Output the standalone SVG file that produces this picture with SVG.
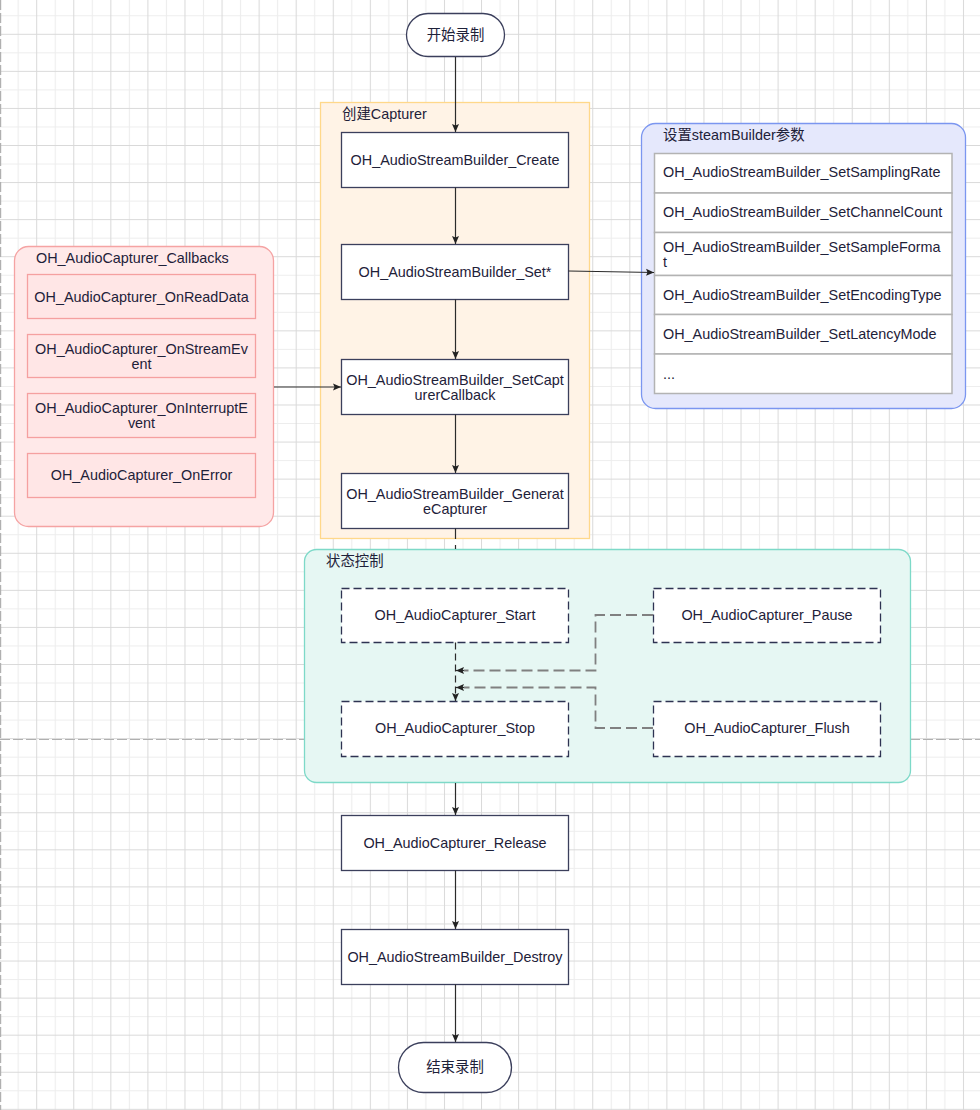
<svg xmlns="http://www.w3.org/2000/svg" width="980" height="1110" viewBox="0 0 980 1110">
<defs>
<pattern id="grid" patternUnits="userSpaceOnUse" x="-0.87" y="-3.27" width="37.07" height="37.07">
<rect width="37.07" height="37.07" fill="#fff"/>
<path d="M19.03 0V37.07M0 19.03H37.07" stroke="#ededed" stroke-width="1"/>
<path d="M0.5 0V37.07M0 0.5H37.07" stroke="#d9d9d9" stroke-width="1"/>
</pattern>
<marker id="arr" markerUnits="userSpaceOnUse" markerWidth="9" markerHeight="9" refX="8" refY="4" orient="auto">
<path d="M0,0.5 L8,4 L0,7.5 L1.5,4 z" fill="#222"/>
</marker>
<style>
.t{font-family:"Liberation Sans",Arial,"Noto Sans CJK SC",sans-serif;font-size:14.4px;fill:#1e2139}
.c{text-anchor:middle}
.box{fill:#fff;stroke:#3b3f5c;stroke-width:1.3}
.dbox{fill:#fff;stroke:#2e3352;stroke-width:1.3;stroke-dasharray:8 4}
.cb{fill:#ffe6e6;stroke:#f5a0a0;stroke-width:1.3}
.row{fill:#fff;stroke:#b3b3b3;stroke-width:1.5}
.conn{fill:none;stroke:#2b2b2b;stroke-width:1.2}
.dk{fill:none;stroke:#2b2b2b;stroke-width:1.2;stroke-dasharray:7 4}
.dconn{fill:none;stroke:#808080;stroke-width:1.8;stroke-dasharray:11 5}
.pb{fill:none;stroke:#b0b0b0;stroke-width:1.2;stroke-dasharray:10 3}
</style>
</defs>
<rect width="980" height="1110" fill="url(#grid)"/>
<path class="pb" d="M0.6 0V1110M0 739.5H980"/>

<g id="group-create">
<rect x="320.5" y="102.5" width="269" height="436" fill="#fff3e6" stroke="#ffd88a" stroke-width="1.3"/>
<text class="t" x="342" y="118.5">创建Capturer</text>
</g>

<g id="group-callbacks">
<rect x="14.5" y="246.5" width="259" height="280" rx="14" fill="#ffe9e9" stroke="#f5a3a3" stroke-width="1.3"/>
<text class="t" x="36" y="263">OH_AudioCapturer_Callbacks</text>
</g>

<g id="group-params">
<rect x="641.5" y="123.5" width="324" height="285" rx="14" fill="#e5e8fc" stroke="#7b96f0" stroke-width="1.3"/>
<text class="t" x="663" y="140">设置steamBuilder参数</text>
</g>

<g id="group-state">
<rect x="304.5" y="549.5" width="606" height="233" rx="12" fill="#e6f7f3" stroke="#7dd9c8" stroke-width="1.3"/>
<text class="t" x="326" y="566">状态控制</text>
</g>

<g id="start">
<rect x="406.5" y="13.5" width="98" height="43" rx="21.5" fill="#fff" stroke="#3b3f5c" stroke-width="1.3"/>
<text class="t c" x="455.5" y="40">开始录制</text>
</g>

<g id="create">
<rect class="box" x="341.5" y="132.5" width="227" height="55"/>
<text class="t c" x="455" y="165">OH_AudioStreamBuilder_Create</text>
</g>

<g id="set">
<rect class="box" x="341.5" y="244.5" width="227" height="55"/>
<text class="t c" x="455" y="277">OH_AudioStreamBuilder_Set*</text>
</g>

<g id="setcallback">
<rect class="box" x="341.5" y="359.5" width="227" height="55"/>
<text class="t c" x="455" y="385">OH_AudioStreamBuilder_SetCapt</text>
<text class="t c" x="455" y="400">urerCallback</text>
</g>

<g id="generate">
<rect class="box" x="341.5" y="473.5" width="227" height="55"/>
<text class="t c" x="455" y="499">OH_AudioStreamBuilder_Generat</text>
<text class="t c" x="455" y="514">eCapturer</text>
</g>

<g id="cb-readdata">
<rect class="cb" x="27.5" y="274.5" width="228" height="44"/>
<text class="t c" x="141.5" y="302">OH_AudioCapturer_OnReadData</text>
</g>
<g id="cb-streamevent">
<rect class="cb" x="27.5" y="334.5" width="228" height="43"/>
<text class="t c" x="141.5" y="354">OH_AudioCapturer_OnStreamEv</text>
<text class="t c" x="141.5" y="369">ent</text>
</g>
<g id="cb-interrupt">
<rect class="cb" x="27.5" y="393.5" width="228" height="44"/>
<text class="t c" x="141.5" y="413">OH_AudioCapturer_OnInterruptE</text>
<text class="t c" x="141.5" y="428">vent</text>
</g>
<g id="cb-error">
<rect class="cb" x="27.5" y="453.5" width="228" height="44"/>
<text class="t c" x="141.5" y="480">OH_AudioCapturer_OnError</text>
</g>

<g id="params-list">
<rect class="row" x="654.5" y="153.5" width="297.5" height="39.5"/>
<text class="t" x="663" y="177">OH_AudioStreamBuilder_SetSamplingRate</text>
<rect class="row" x="654.5" y="193" width="297.5" height="39.5"/>
<text class="t" x="663" y="217">OH_AudioStreamBuilder_SetChannelCount</text>
<rect class="row" x="654.5" y="232.5" width="297.5" height="43"/>
<text class="t" x="663" y="251.5">OH_AudioStreamBuilder_SetSampleForma</text>
<text class="t" x="663" y="266.5">t</text>
<rect class="row" x="654.5" y="275.5" width="297.5" height="39"/>
<text class="t" x="663" y="300">OH_AudioStreamBuilder_SetEncodingType</text>
<rect class="row" x="654.5" y="314.5" width="297.5" height="39.5"/>
<text class="t" x="663" y="339">OH_AudioStreamBuilder_SetLatencyMode</text>
<rect class="row" x="654.5" y="354" width="297.5" height="39.5"/>
<text class="t" x="663" y="379">...</text>
</g>

<g id="cap-start">
<rect class="dbox" x="341.5" y="588.5" width="227" height="54"/>
<text class="t c" x="455" y="620">OH_AudioCapturer_Start</text>
</g>
<g id="cap-pause">
<rect class="dbox" x="653.5" y="588.5" width="227" height="54"/>
<text class="t c" x="767" y="620">OH_AudioCapturer_Pause</text>
</g>
<g id="cap-stop">
<rect class="dbox" x="341.5" y="701.5" width="227" height="55"/>
<text class="t c" x="455" y="733">OH_AudioCapturer_Stop</text>
</g>
<g id="cap-flush">
<rect class="dbox" x="653.5" y="701.5" width="227" height="55"/>
<text class="t c" x="767" y="733">OH_AudioCapturer_Flush</text>
</g>

<g id="release">
<rect class="box" x="341.5" y="815.5" width="227" height="55"/>
<text class="t c" x="455" y="848">OH_AudioCapturer_Release</text>
</g>
<g id="destroy">
<rect class="box" x="341.5" y="929.5" width="227" height="55"/>
<text class="t c" x="455" y="962">OH_AudioStreamBuilder_Destroy</text>
</g>
<g id="end">
<rect x="398.5" y="1042.5" width="113" height="50" rx="25" fill="#fff" stroke="#3b3f5c" stroke-width="1.3"/>
<text class="t c" x="455" y="1072">结束录制</text>
</g>

<g id="connectors">
<path class="conn" d="M455.5 57V132" marker-end="url(#arr)"/>
<path class="conn" d="M455.5 187.5V244" marker-end="url(#arr)"/>
<path class="conn" d="M455.5 299.5V359" marker-end="url(#arr)"/>
<path class="conn" d="M455.5 414.5V473" marker-end="url(#arr)"/>
<path class="conn" d="M455.5 528.5V539M455.5 545V549"/>
<path class="conn" d="M568.5 271L654 272.5" marker-end="url(#arr)"/>
<path class="conn" d="M274 387H341" marker-end="url(#arr)"/>
<path class="dk" d="M455.5 642.5V701" marker-end="url(#arr)"/>
<path class="dconn" d="M653 615H595.5V670.5H464"/>
<path class="conn" d="M464 670.5H456" marker-end="url(#arr)"/>
<path class="dconn" d="M653 728H595.5V687.5H464"/>
<path class="conn" d="M464 687.5H456" marker-end="url(#arr)"/>
<path class="conn" d="M455.5 783V815" marker-end="url(#arr)"/>
<path class="conn" d="M455.5 870.5V929" marker-end="url(#arr)"/>
<path class="conn" d="M455.5 984.5V1042" marker-end="url(#arr)"/>
</g>
</svg>
